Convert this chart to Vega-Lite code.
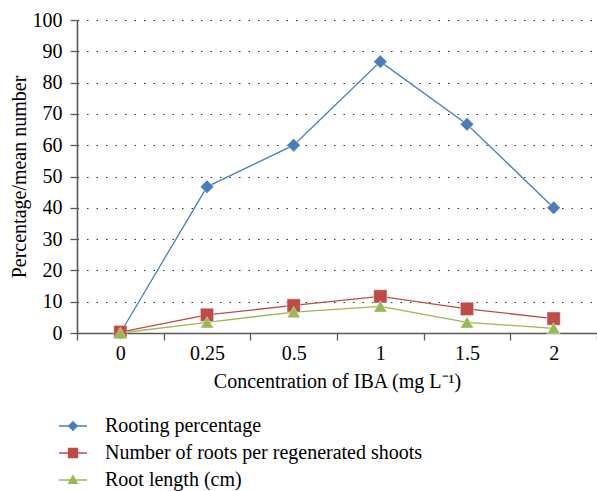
{
  "$schema": "https://vega.github.io/schema/vega-lite/v6.json",
  "autosize": {"type": "none"},
  "padding": {"left": 77, "top": 20, "right": 0, "bottom": 158},
  "width": 520,
  "height": 313,
  "background": "white",
  "data": {
    "values": [
      {"conc": "0", "series": "Rooting percentage", "value": 0},
      {"conc": "0.25", "series": "Rooting percentage", "value": 46.7},
      {"conc": "0.5", "series": "Rooting percentage", "value": 60},
      {"conc": "1", "series": "Rooting percentage", "value": 86.7},
      {"conc": "1.5", "series": "Rooting percentage", "value": 66.7},
      {"conc": "2", "series": "Rooting percentage", "value": 40},
      {"conc": "0", "series": "Number of roots per regenerated shoots", "value": 0.3},
      {"conc": "0.25", "series": "Number of roots per regenerated shoots", "value": 5.8},
      {"conc": "0.5", "series": "Number of roots per regenerated shoots", "value": 8.8},
      {"conc": "1", "series": "Number of roots per regenerated shoots", "value": 11.7},
      {"conc": "1.5", "series": "Number of roots per regenerated shoots", "value": 7.7},
      {"conc": "2", "series": "Number of roots per regenerated shoots", "value": 4.6},
      {"conc": "0", "series": "Root length (cm)", "value": 0},
      {"conc": "0.25", "series": "Root length (cm)", "value": 3.4},
      {"conc": "0.5", "series": "Root length (cm)", "value": 6.7},
      {"conc": "1", "series": "Root length (cm)", "value": 8.5},
      {"conc": "1.5", "series": "Root length (cm)", "value": 3.4},
      {"conc": "2", "series": "Root length (cm)", "value": 1.5}
    ]
  },
  "encoding": {
    "x": {
      "field": "conc",
      "type": "ordinal",
      "sort": ["0", "0.25", "0.5", "1", "1.5", "2"],
      "scale": {"type": "band", "paddingInner": 0, "paddingOuter": 0, "domain": ["0", "0.25", "0.5", "1", "1.5", "2"]},
      "axis": {
        "title": "Concentration of IBA (mg L⁻¹)",
        "labelAngle": 0,
        "tickBand": "extent",
        "labelPadding": 3,
        "titlePadding": 8
      }
    },
    "y": {
      "field": "value",
      "type": "quantitative",
      "scale": {"domain": [0, 100], "nice": false},
      "axis": {
        "title": "Percentage/mean number",
        "values": [0, 10, 20, 30, 40, 50, 60, 70, 80, 90, 100],
        "grid": true,
        "gridDash": [1.5, 8],
        "gridColor": "#333333",
        "gridWidth": 1.2,
        "labelPadding": 8,
        "titlePadding": 3
      }
    },
    "color": {
      "field": "series",
      "type": "nominal",
      "scale": {
        "domain": ["Rooting percentage", "Number of roots per regenerated shoots", "Root length (cm)"],
        "range": ["#4A7EBB", "#BE4B48", "#98B954"]
      },
      "legend": {
        "title": null,
        "orient": "none",
        "legendX": -14,
        "legendY": 396,
        "direction": "vertical",
        "symbolOpacity": 1,
        "symbolStrokeWidth": 1.3,
        "labelOffset": 22,
        "labelFontSize": 20,
        "labelColor": "#000000",
        "rowPadding": 7,
        "labelLimit": 600
      }
    }
  },
  "layer": [
    {
      "mark": {"type": "line", "strokeWidth": 1.3}
    },
    {
      "transform": [{"filter": "datum.series == 'Rooting percentage'"}],
      "mark": {"type": "point", "shape": "diamond", "filled": true, "opacity": 1, "size": 180, "stroke": "#ffffff", "strokeWidth": 0.8, "strokeOpacity": 0.5}
    },
    {
      "transform": [{"filter": "datum.series == 'Number of roots per regenerated shoots'"}],
      "mark": {"type": "point", "shape": "square", "filled": true, "opacity": 1, "size": 175, "stroke": "#ffffff", "strokeWidth": 0.8, "strokeOpacity": 0.5}
    },
    {
      "transform": [{"filter": "datum.series == 'Root length (cm)'"}],
      "mark": {"type": "point", "shape": "triangle-up", "filled": true, "opacity": 1, "size": 175, "stroke": "#ffffff", "strokeWidth": 0.8, "strokeOpacity": 0.5}
    },
    {
      "mark": {"type": "point", "filled": true, "opacity": 0, "size": 175},
      "encoding": {
        "shape": {
          "field": "series",
          "type": "nominal",
          "scale": {
            "domain": ["Rooting percentage", "Number of roots per regenerated shoots", "Root length (cm)"],
            "range": [
              "M-2.8,0L2.8,0M0,-0.85L0.85,0L0,0.85L-0.85,0Z",
              "M-2.8,0L2.8,0M-0.9,-0.9L0.9,-0.9L0.9,0.9L-0.9,0.9Z",
              "M-2.8,0L2.8,0M0,-0.9L0.85,0.65L-0.85,0.65Z"
            ]
          },
          "legend": {
            "title": null,
            "orient": "none",
            "legendX": -14,
            "legendY": 396,
            "direction": "vertical",
            "symbolOpacity": 1,
            "symbolStrokeWidth": 1.3,
            "labelOffset": 22,
            "labelFontSize": 20,
            "labelColor": "#000000",
            "rowPadding": 7,
            "labelLimit": 600
          }
        }
      }
    }
  ],
  "config": {
    "font": "Liberation Serif, serif",
    "view": {"stroke": null},
    "style": {
      "guide-label": {"font": "Liberation Serif, serif"},
      "guide-title": {"font": "Liberation Serif, serif"}
    },
    "legend": {"labelFont": "Liberation Serif, serif"},
    "axis": {
      "labelFont": "Liberation Serif, serif",
      "titleFont": "Liberation Serif, serif",
      "labelFontSize": 20,
      "titleFontSize": 20,
      "titleFontWeight": "normal",
      "labelColor": "#000000",
      "titleColor": "#000000",
      "domainColor": "#595959",
      "tickColor": "#595959",
      "domainWidth": 1.6,
      "tickWidth": 1.3,
      "tickSize": 7
    }
  }
}
